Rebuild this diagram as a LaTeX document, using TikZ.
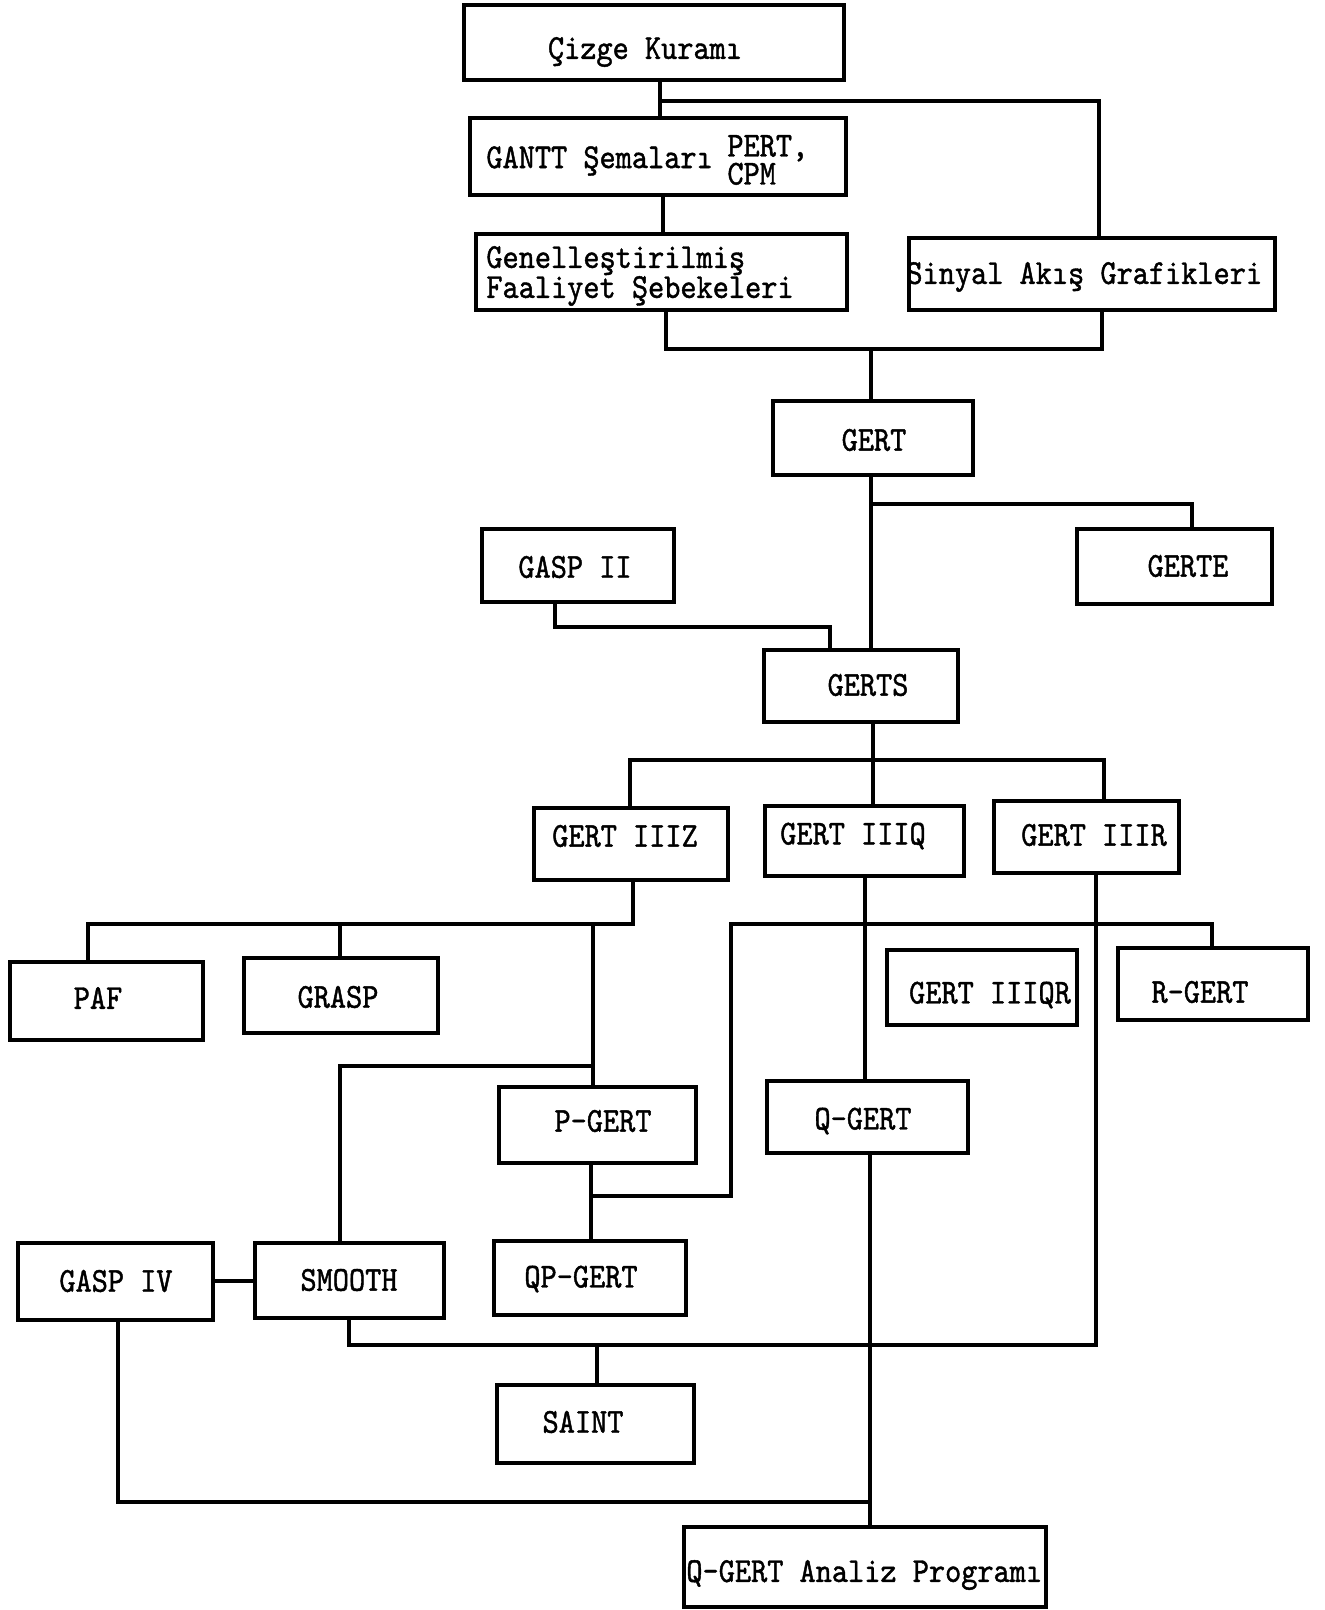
\documentclass[tikz,border=0pt]{standalone}
\usepackage{fontspec}
\usetikzlibrary{fit}
\newfontfamily\twfont[FakeStretch=0.88,FakeBold=1.2]{lmmono10-regular.otf}
\begin{document}
\begin{tikzpicture}[x=0.5pt,y=-0.5pt,
  box/.style={draw, line width=1.9pt, inner sep=0pt},
  conn/.style={line width=1.6pt, line cap=rect},
  txt/.style={font=\fontsize{17.5pt}{14pt}\twfont, inner sep=0pt, align=left}]
\useasboundingbox (0,0) rectangle (1324,1610);
% boxes
\node[box, fit={(464,5) (844,80)}] (cizge) {};
\node[box, fit={(470,118) (846,195)}] (gantt) {};
\node[box, fit={(476,234) (847,310)}] (gen) {};
\node[box, fit={(909,238) (1275,310)}] (sinyal) {};
\node[box, fit={(773,401) (973,475)}] (gert) {};
\node[box, fit={(1077,529) (1272,604)}] (gerte) {};
\node[box, fit={(482,529) (674,602)}] (gasp2) {};
\node[box, fit={(764,650) (958,722)}] (gerts) {};
\node[box, fit={(534,808) (728,880)}] (iiiz) {};
\node[box, fit={(765,806) (964,876)}] (iiiq) {};
\node[box, fit={(994,801) (1179,873)}] (iiir) {};
\node[box, fit={(10,962) (203,1040)}] (paf) {};
\node[box, fit={(244,958) (438,1033)}] (grasp) {};
\node[box, fit={(887,950) (1077,1025)}] (iiiqr) {};
\node[box, fit={(1118,948) (1308,1020)}] (rgert) {};
\node[box, fit={(499,1087) (696,1163)}] (pgert) {};
\node[box, fit={(767,1081) (968,1153)}] (qgert) {};
\node[box, fit={(18,1243) (213,1320)}] (gasp4) {};
\node[box, fit={(255,1243) (444,1318)}] (smooth) {};
\node[box, fit={(494,1241) (686,1315)}] (qpgert) {};
\node[box, fit={(497,1385) (694,1463)}] (saint) {};
\node[box, fit={(684,1527) (1046,1607)}] (analiz) {};
% texts
\node[txt] (t-cizge) at (645,52) {Çizge Kuramı};
\node[txt, anchor=west] (t-gantt) at (486,161) {GANTT Şemaları};
\node[txt, anchor=west, font=\fontsize{17.5pt}{14pt}\twfont] (t-pert) at (727,160) {PERT,\\CPM};
\node[txt, anchor=west, font=\fontsize{17.5pt}{15pt}\twfont] (t-gen) at (486,276) {Genelleştirilmiş\\Faaliyet Şebekeleri};
\node[txt, anchor=west] (t-sinyal) at (906,277) {Sinyal Akış Grafikleri};
\node[txt] (t-gert) at (874,440) {GERT};
\node[txt] (t-gerte) at (1188,566) {GERTE};
\node[txt] (t-gasp2) at (575,567) {GASP II};
\node[txt] (t-gerts) at (868,685) {GERTS};
\node[txt] (t-iiiz) at (625,836) {GERT IIIZ};
\node[txt] (t-iiiq) at (853,836) {GERT IIIQ};
\node[txt] (t-iiir) at (1094,835) {GERT IIIR};
\node[txt] (t-paf) at (98,998) {PAF};
\node[txt] (t-grasp) at (338,997) {GRASP};
\node[txt] (t-iiiqr) at (990,995) {GERT IIIQR};
\node[txt] (t-rgert) at (1200,992) {R-GERT};
\node[txt] (t-pgert) at (603,1121) {P-GERT};
\node[txt] (t-qgert) at (863,1121) {Q-GERT};
\node[txt] (t-gasp4) at (116,1281) {GASP IV};
\node[txt] (t-smooth) at (349,1280) {SMOOTH};
\node[txt] (t-qpgert) at (581,1279) {QP-GERT};
\node[txt] (t-saint) at (583,1422) {SAINT};
\node[txt, anchor=west] (t-analiz) at (686,1575) {Q-GERT Analiz Programı};
% junction coordinates
\coordinate (j1) at (660,101); \coordinate (j1r) at (1099,101);
\coordinate (cg) at (663,200);
\coordinate (j2l) at (666,349); \coordinate (j2) at (871,349); \coordinate (j2r) at (1102,349);
\coordinate (j3) at (871,504); \coordinate (j3r) at (1192,504);
\coordinate (j4l) at (555,627); \coordinate (j4r) at (830,627);
\coordinate (j5) at (873,760); \coordinate (j5l) at (630,760); \coordinate (j5r) at (1104,760);
\coordinate (j6) at (633,924); \coordinate (j6l) at (88,924); \coordinate (j6g) at (340,924); \coordinate (j6p) at (593,924);
\coordinate (j7) at (593,1066); \coordinate (j7l) at (340,1066);
\coordinate (j8) at (591,1196); \coordinate (j8r) at (731,1196); \coordinate (j8t) at (731,924); \coordinate (j8rr) at (1212,924);
\coordinate (jq) at (865,1000);
\coordinate (j9) at (1096,1345); \coordinate (j9l) at (349,1345); \coordinate (j9s) at (597,1345);
\coordinate (j10) at (870,1502); \coordinate (j10l) at (118,1502);
\coordinate (jg) at (230,1281);
% connectors
\draw[conn] (cizge.south -| j1) -- (gantt.north -| j1);
\draw[conn] (j1) -- (j1r) -- (sinyal.north -| j1r);
\draw[conn] (gantt.south -| cg) -- (gen.north -| cg);
\draw[conn] (gen.south -| j2l) -- (j2l) -- (j2r) -- (sinyal.south -| j2r);
\draw[conn] (j2) -- (gert.north -| j2);
\draw[conn] (gert.south -| j3) -- (gerts.north -| j3);
\draw[conn] (j3) -- (j3r) -- (gerte.north -| j3r);
\draw[conn] (gasp2.south -| j4l) -- (j4l) -- (j4r) -- (gerts.north -| j4r);
\draw[conn] (gerts.south -| j5) -- (j5);
\draw[conn] (j5l) -- (j5r);
\draw[conn] (j5l) -- (iiiz.north -| j5l);
\draw[conn] (j5) -- (iiiq.north -| j5);
\draw[conn] (j5r) -- (iiir.north -| j5r);
\draw[conn] (iiiz.south -| j6) -- (j6) -- (j6l) -- (paf.north -| j6l);
\draw[conn] (j6g) -- (grasp.north -| j6g);
\draw[conn] (j6p) -- (pgert.north -| j6p);
\draw[conn] (j7) -- (j7l) -- (smooth.north -| j7l);
\draw[conn] (pgert.south -| j8) -- (qpgert.north -| j8);
\draw[conn] (j8) -- (j8r) -- (j8t) -- (j8rr) -- (rgert.north -| j8rr);
\draw[conn] (iiiq.south -| jq) -- (qgert.north -| jq);
\draw[conn] (iiir.south -| j9) -- (j9) -- (j9l) -- (smooth.south -| j9l);
\draw[conn] (j9s) -- (saint.north -| j9s);
\draw[conn] (qgert.south -| j10) -- (analiz.north -| j10);
\draw[conn] (gasp4.south -| j10l) -- (j10l) -- (j10);
\draw[conn] (gasp4.east |- jg) -- (smooth.west |- jg);
\end{tikzpicture}
\end{document}
